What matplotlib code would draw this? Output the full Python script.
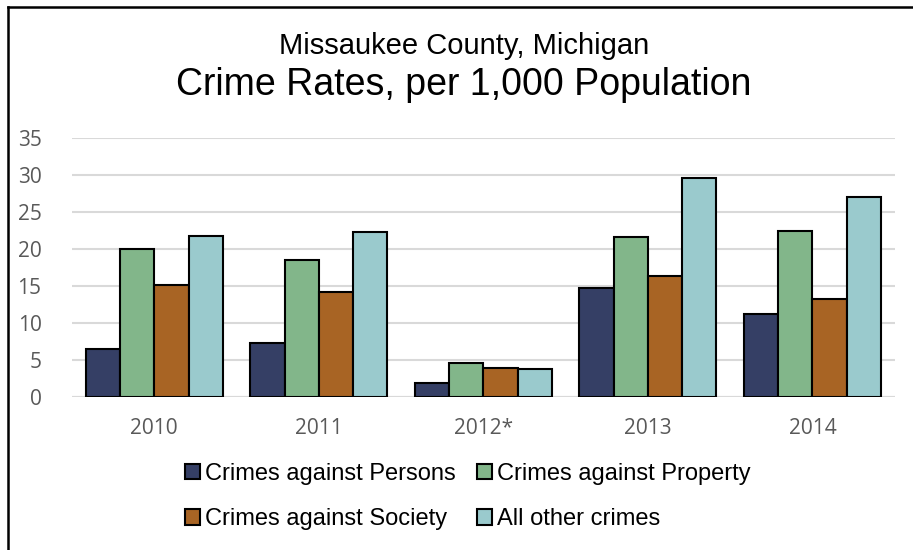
import numpy as np
import matplotlib.pyplot as plt
from matplotlib.lines import Line2D

# data
years = ['2010', '2011', '2012*', '2013', '2014']
persons = [6.4, 7.2, 1.9, 14.7, 11.2]
property_ = [19.9, 18.5, 4.5, 21.6, 22.4]
society = [15.1, 14.2, 3.9, 16.3, 13.2]
other = [21.7, 22.2, 3.7, 29.5, 27.0]
series_names = ['Crimes against Persons', 'Crimes against Property',
                'Crimes against Society', 'All other crimes']
colors = ['#353f65', '#82b68a', '#a86424', '#9acacd']

textfont = ['Liberation Sans', 'DejaVu Sans']
tickfont = ['Open Sans', 'DejaVu Sans']

fig = plt.figure(figsize=(9.13, 5.5), dpi=100)
ax = fig.add_axes([0.0789, 0.2787, 0.9011, 0.4709])

x = np.arange(len(years))
w = 0.208
all_series = [persons, property_, society, other]
bars = []
for i, vals in enumerate(all_series):
    b = ax.bar(x + (i - 1.5) * w, vals, w, color=colors[i], edgecolor='black',
               linewidth=1.5, label=series_names[i], zorder=3)
    bars.append(b)

ax.set_xlim(-0.5, 4.5)
ax.set_ylim(0, 35)
ax.set_yticks(range(0, 36, 5))
ax.set_xticks(x)
ax.set_xticklabels(years)
ax.grid(axis='y', color='#d9d9d9', linewidth=1.5, zorder=0)
for s in ax.spines.values():
    s.set_visible(False)
ax.axhline(0, color='#d9d9d9', linewidth=1.5, zorder=2)
ax.tick_params(length=0, labelcolor='#595959', labelsize=15)
ax.tick_params(axis='y', pad=22)
ax.tick_params(axis='x', pad=15)
for lab in ax.get_xticklabels() + ax.get_yticklabels():
    lab.set_family(tickfont)

fig.text(0.508, 0.916, 'Missaukee County, Michigan', ha='center', va='center',
         fontsize=21, family=textfont)
fig.text(0.508, 0.845, 'Crime Rates, per 1,000 Population', ha='center',
         va='center', fontsize=27, family=textfont)

# legend laid out row-wise like the original
order = [0, 2, 1, 3]
fig.legend([bars[k] for k in order], [series_names[k] for k in order], ncol=2,
           loc='center', bbox_to_anchor=(0.512, 0.097), frameon=False,
           prop={'family': textfont, 'size': 17},
           handlelength=0.65, handleheight=0.65, handletextpad=0.2,
           columnspacing=0.9, labelspacing=1.0)

# chart border (only top and left edges visible in the crop)
fig.add_artist(Line2D([0.00876, 1.0], [0.9873, 0.9873], color='black',
                      linewidth=1.8, transform=fig.transFigure))
fig.add_artist(Line2D([0.00876, 0.00876], [0.0, 0.9873], color='black',
                      linewidth=1.8, transform=fig.transFigure))

fig.savefig('out.png', dpi=100)
